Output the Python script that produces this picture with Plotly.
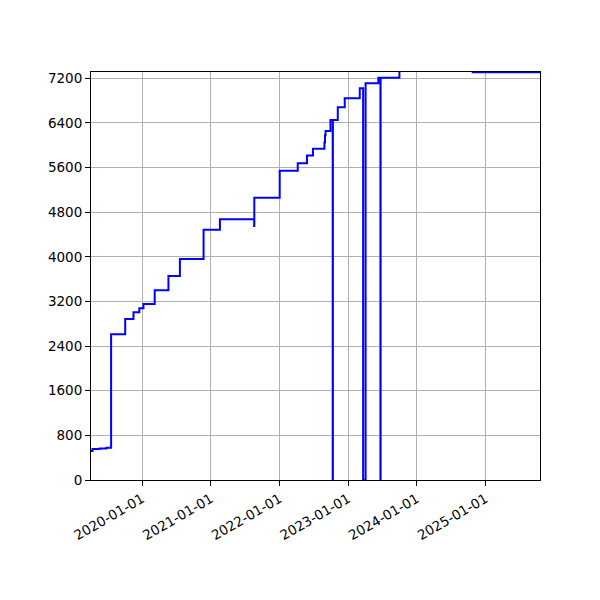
import plotly.graph_objects as go

# cumulative count (step series, value holds until next date)
dates = [
    "2019-04-04", "2019-04-12", "2019-05-20", "2019-06-25", "2019-07-20",
    "2019-10-03", "2019-11-16", "2019-12-17", "2020-01-08", "2020-03-08",
    "2020-05-20", "2020-07-20", "2020-11-23", "2021-02-18", "2021-08-19",
    "2021-08-20", "2022-01-02", "2022-04-08", "2022-05-27", "2022-06-28",
    "2022-08-28", "2022-08-31", "2022-09-03", "2022-09-29", "2022-10-11",
    "2022-10-12", "2022-11-07", "2022-12-14", "2023-03-04", "2023-03-22",
    "2023-04-04", "2023-06-11", "2023-06-22", "2023-06-23", "2023-10-01",
    "2024-10-25", "2025-10-18",
]
values = [
    520, 555, 565, 580, 2612,
    2886, 3006, 3078, 3155, 3400,
    3657, 3961, 4487, 4673, 4553,
    5060, 5544, 5677, 5816, 5938,
    6050, 6180, 6256, 6453, 0,
    6453, 6680, 6842, 7021, 0,
    7111, 7211, 0, 7211, 7500,
    7308, 7308,
]
y_ticks = [0, 800, 1600, 2400, 3200, 4000, 4800, 5600, 6400, 7200]
x_ticks = ["2020-01-01", "2021-01-01", "2022-01-01", "2023-01-01",
           "2024-01-01", "2025-01-01"]

fig = go.Figure()
fig.add_trace(
    go.Scatter(
        x=dates,
        y=values,
        mode="lines",
        line=dict(color="#0000ff", width=2, shape="hv"),
        showlegend=False,
    )
)

axis_style = dict(
    showline=True,
    linecolor="black",
    linewidth=1,
    mirror=True,
    ticks="outside",
    ticklen=5,
    tickcolor="black",
    showgrid=True,
    gridcolor="#b0b0b0",
    gridwidth=1,
    zeroline=False,
    tickfont=dict(family="DejaVu Sans", size=13.5, color="black"),
)

fig.update_xaxes(
    type="date",
    range=[dates[0], dates[-1]],
    tickvals=x_ticks,
    ticktext=x_ticks,
    tickangle=-30,
    **axis_style,
)
fig.update_yaxes(
    range=[0, 7313],
    tickvals=y_ticks,
    **axis_style,
)

# page body adds an 8px offset, so margins are trimmed to match the reference box
fig.update_layout(
    width=600,
    height=600,
    margin=dict(l=83, r=68, t=64, b=128),
    paper_bgcolor="white",
    plot_bgcolor="white",
    font=dict(family="DejaVu Sans", size=13.5, color="black"),
)

fig.write_html("out.html")
